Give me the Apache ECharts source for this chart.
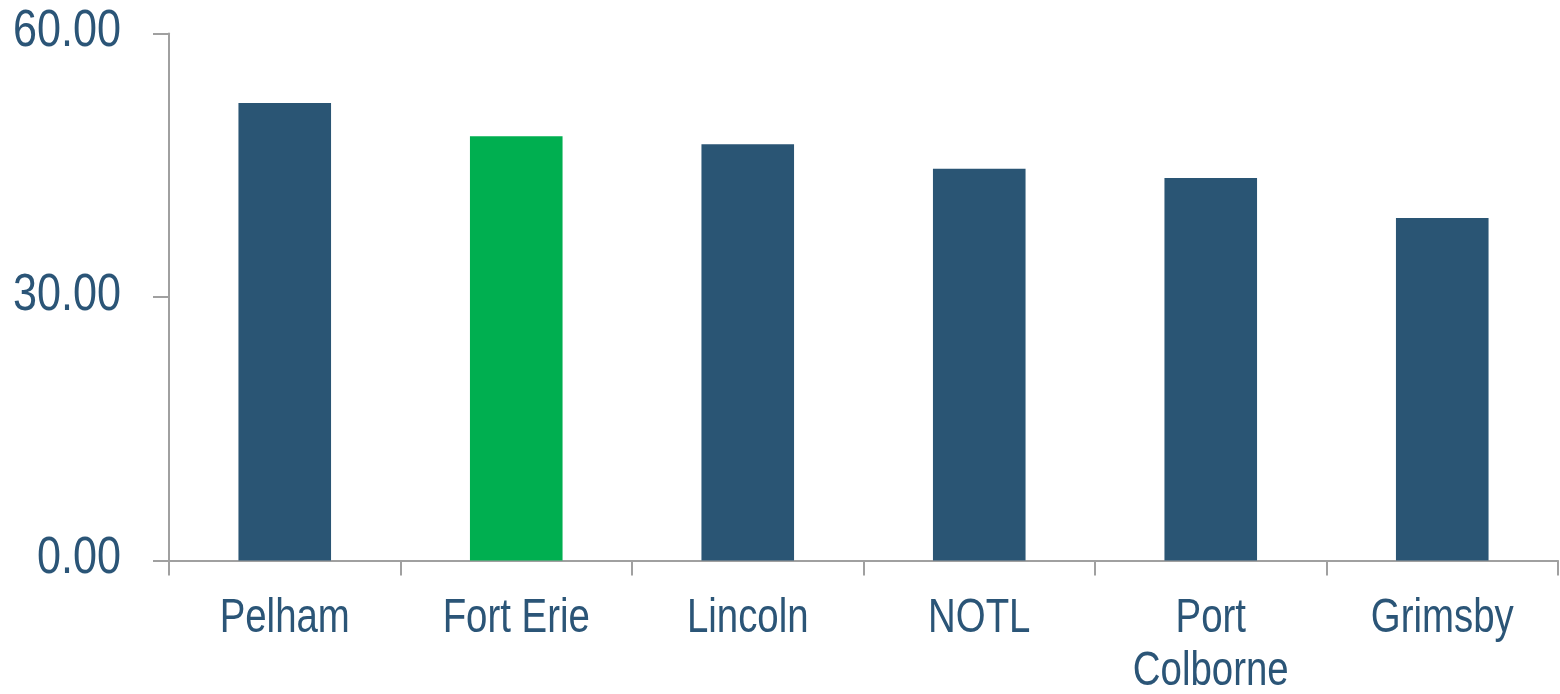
<!DOCTYPE html>
<html>
<head>
<meta charset="utf-8">
<script src="https://cdn.jsdelivr.net/npm/echarts@6/dist/echarts.min.js"></script>
<style>html,body{margin:0;padding:0;background:#fff}#c{width:1560px;height:694px}</style>
</head>
<body>
<div id="c"></div>
<script>
const categories = ['Pelham', 'Fort Erie', 'Lincoln', 'NOTL', 'Port\nColborne', 'Grimsby'];
const values = [52.1, 48.3, 47.4, 44.6, 43.55, 39.0];
const highlightCategory = 'Fort Erie';
const yTicks = [0, 30, 60];

const blue = '#2A5574';
const green = '#00AF50';
const textColor = '#2B5577';
const axisColor = '#A0A0A0';
const font = '"Liberation Sans", Arial, sans-serif';

const chart = echarts.init(document.getElementById('c'));
chart.setOption({
  animation: false,
  grid: { left: 169, right: 2, top: 33.5, bottom: 133.5, containLabel: false, outerBoundsMode: 'none' },
  xAxis: {
    type: 'category',
    data: categories,
    boundaryGap: true,
    axisLine: { show: true, lineStyle: { color: axisColor, width: 2 } },
    axisTick: { show: true, length: 15, alignWithLabel: false, lineStyle: { color: axisColor, width: 2 } },
    axisLabel: { show: false }
  },
  yAxis: {
    type: 'value',
    min: yTicks[0],
    max: yTicks[yTicks.length - 1],
    interval: yTicks[1] - yTicks[0],
    splitLine: { show: false },
    axisLine: { show: true, lineStyle: { color: axisColor, width: 2 } },
    axisTick: { show: true, length: 16, lineStyle: { color: axisColor, width: 2 } },
    axisLabel: { show: false }
  },
  series: [{
    type: 'bar',
    barWidth: '40%',
    data: values.map((v, i) => ({
      value: v,
      itemStyle: { color: categories[i] === highlightCategory ? green : blue }
    }))
  }]
});

// Narrow (condensed) labels: real text, horizontally compressed, placed via the axes' own scales
const c0 = chart.convertToPixel({ xAxisIndex: 0 }, 0);
const c1 = chart.convertToPixel({ xAxisIndex: 0 }, 1);
const band = c1 - c0;
const axisX = c0 - band / 2;
const axisY = chart.convertToPixel({ yAxisIndex: 0 }, 0);
const graphics = [];
categories.forEach((cat, i) => {
  graphics.push({
    type: 'text',
    x: chart.convertToPixel({ xAxisIndex: 0 }, i),
    y: axisY + 32,
    scaleX: 0.8,
    silent: true,
    style: {
      text: cat, fill: textColor, font: '48px ' + font,
      fontSize: 48, fontFamily: font, lineHeight: 53,
      align: 'center', verticalAlign: 'top'
    }
  });
});
yTicks.forEach(t => {
  graphics.push({
    type: 'text',
    x: axisX - 48,
    y: chart.convertToPixel({ yAxisIndex: 0 }, t) - 1.5,
    scaleX: 0.83,
    silent: true,
    style: {
      text: t.toFixed(2), fill: textColor,
      fontSize: 52, fontFamily: font,
      align: 'right', verticalAlign: 'middle'
    }
  });
});
chart.setOption({ graphic: graphics });
</script>
</body>
</html>
